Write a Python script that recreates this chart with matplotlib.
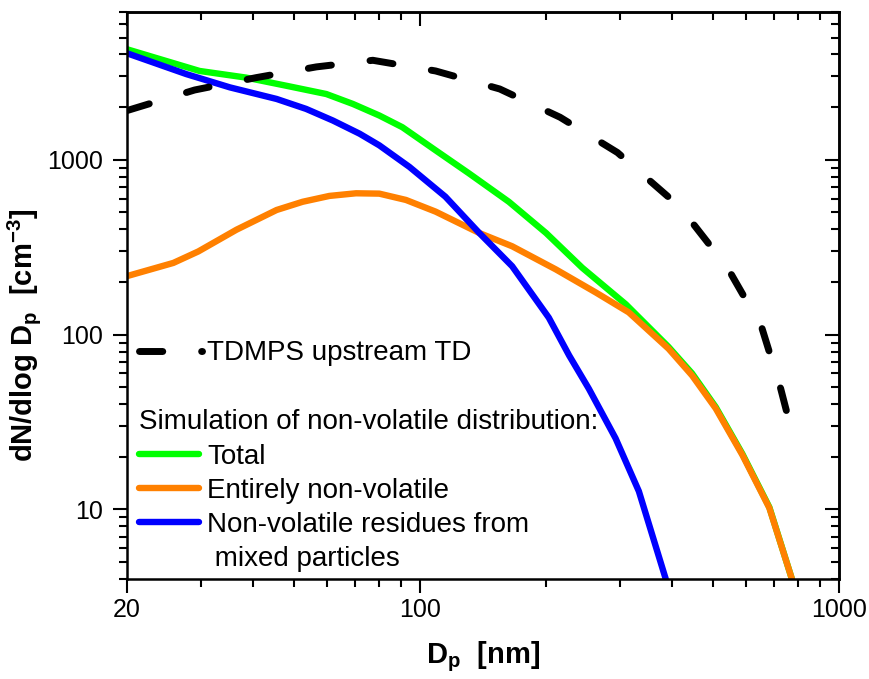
import matplotlib
matplotlib.use('Agg')
import matplotlib.pyplot as plt
from matplotlib.lines import Line2D
from matplotlib.ticker import NullFormatter

plt.rcParams['font.family'] = ['Liberation Sans', 'DejaVu Sans']
plt.rcParams['mathtext.default'] = 'regular'

# data (D_p in nm, dN/dlogDp in cm^-3)
td_x = [20, 29, 40.7, 56.6, 77.2, 109, 155, 216, 296, 418, 542, 654, 726, 788]
td_y = [1911, 2506, 2950, 3397, 3706, 3220, 2540, 1750, 1100, 535, 241, 110, 49, 22.9]

total_x = [20, 29.8, 38.5, 48, 59.8, 69.2, 80, 90.8, 109, 131, 163, 200, 244, 310, 392, 446, 508, 588, 682, 772]
total_y = [4285, 3220, 2950, 2650, 2376, 2085, 1791, 1535, 1132, 835, 575, 381, 241, 149, 85, 60, 38.5, 20.8, 10.3, 4.0]

nonvol_x = [20, 25.8, 29.6, 36.5, 45.5, 52.5, 60.8, 70.4, 80, 92.6, 109, 138.6, 166, 211, 263, 315, 392, 446, 508, 588, 682, 772]
nonvol_y = [216, 257, 299, 398, 516, 575, 621, 643, 640, 589, 505, 381, 320, 236, 174, 134, 83, 58.4, 37.8, 20.5, 10.2, 4.0]

resid_x = [20, 27.7, 35.2, 45.5, 53.5, 62, 71.8, 80, 94.4, 115, 138.6, 166, 189, 203, 227, 253, 293, 333, 386]
resid_y = [4065, 3090, 2594, 2227, 1954, 1676, 1409, 1209, 910, 615, 381, 246, 159, 125, 76, 49, 25.5, 12.7, 4.0]

x_major = [20, 100, 1000]
x_major_labels = ['20', '100', '1000']
x_minor = [30, 40, 50, 60, 70, 80, 90, 200, 300, 400, 500, 600, 700, 800, 900]
y_major = [10, 100, 1000]
y_major_labels = ['10', '100', '1000']
y_minor = [4, 5, 6, 7, 8, 9, 20, 30, 40, 50, 60, 70, 80, 90,
           200, 300, 400, 500, 600, 700, 800, 900, 2000, 3000, 4000, 5000, 6000, 7000]

GREEN = '#00ff00'
ORANGE = '#ff8000'
BLUE = '#0000ff'

fig = plt.figure(figsize=(8.69, 6.79), dpi=100)
ax = fig.add_axes([127 / 869, 1 - 579 / 679, (839 - 127) / 869, (579 - 12) / 679])
ax.set_xscale('log')
ax.set_yscale('log')

lw = 4.6
g, = ax.plot(total_x, total_y, color=GREEN, lw=lw, solid_capstyle='round', solid_joinstyle='round')
o, = ax.plot(nonvol_x, nonvol_y, color=ORANGE, lw=lw, solid_capstyle='round', solid_joinstyle='round')
b, = ax.plot(resid_x, resid_y, color=BLUE, lw=lw, solid_capstyle='round', solid_joinstyle='round')
td, = ax.plot(td_x, td_y, color='black', lw=5, linestyle=(0, (3.35, 5.6)), dash_capstyle='round')

ax.set_xlim(20, 1000)
ax.set_ylim(4, 7000)

# ticks: outward on bottom/left, inward (mirrored) on top/right
for axis, major, labels, minor in [(ax.xaxis, x_major, x_major_labels, x_minor),
                                   (ax.yaxis, y_major, y_major_labels, y_minor)]:
    axis.set_ticks(major)
    axis.set_ticklabels(labels)
    axis.set_ticks(minor, minor=True)
    axis.set_minor_formatter(NullFormatter())
ax.tick_params(which='major', direction='out', length=10, width=1.5, labelsize=18)
ax.tick_params(which='minor', direction='out', length=5.5, width=1.5)
ax.tick_params(axis='x', pad=4)
ax.tick_params(axis='y', pad=7)

secx = ax.secondary_xaxis('top')
secx.xaxis.set_ticks(x_major)
secx.xaxis.set_ticks(x_minor, minor=True)
secx.tick_params(which='major', direction='in', length=10, width=1.5, labeltop=False)
secx.tick_params(which='minor', direction='in', length=5.5, width=1.5, labeltop=False)
secy = ax.secondary_yaxis('right')
secy.yaxis.set_ticks(y_major)
secy.yaxis.set_ticks(y_minor, minor=True)
secy.tick_params(which='major', direction='in', length=10, width=1.5, labelright=False)
secy.tick_params(which='minor', direction='in', length=5.5, width=1.5, labelright=False)
for a in (ax, secx, secy):
    for s in a.spines.values():
        s.set_linewidth(1.8)

ax.set_xlabel('D$_p$  [nm]', fontsize=21, fontweight='bold', labelpad=12)
ax.set_ylabel('dN/dlog D$_p$  [cm$^{-3}$]', fontsize=21, fontweight='bold')
ax.yaxis.set_label_coords(-0.118, 0.43)

leg1 = ax.legend([td], ['TDMPS upstream TD'], loc='upper left', bbox_to_anchor=(0.0162, 0.421),
                 frameon=False, fontsize=20, handlelength=2.27, handletextpad=0.2,
                 borderpad=0, borderaxespad=0)
ax.add_artist(leg1)

blank = Line2D([], [], color='none')
ax.legend([g, o, b, blank],
          ['Total', 'Entirely non-volatile', 'Non-volatile residues from', ' mixed particles'],
          title='Simulation of non-volatile distribution:', title_fontsize=20, alignment='left',
          loc='upper left', bbox_to_anchor=(0.0162, 0.299), frameon=False, fontsize=20,
          handlelength=2.18, handletextpad=0.29, labelspacing=0.29,
          borderpad=0, borderaxespad=0)

fig.savefig('out.png', dpi=100)
